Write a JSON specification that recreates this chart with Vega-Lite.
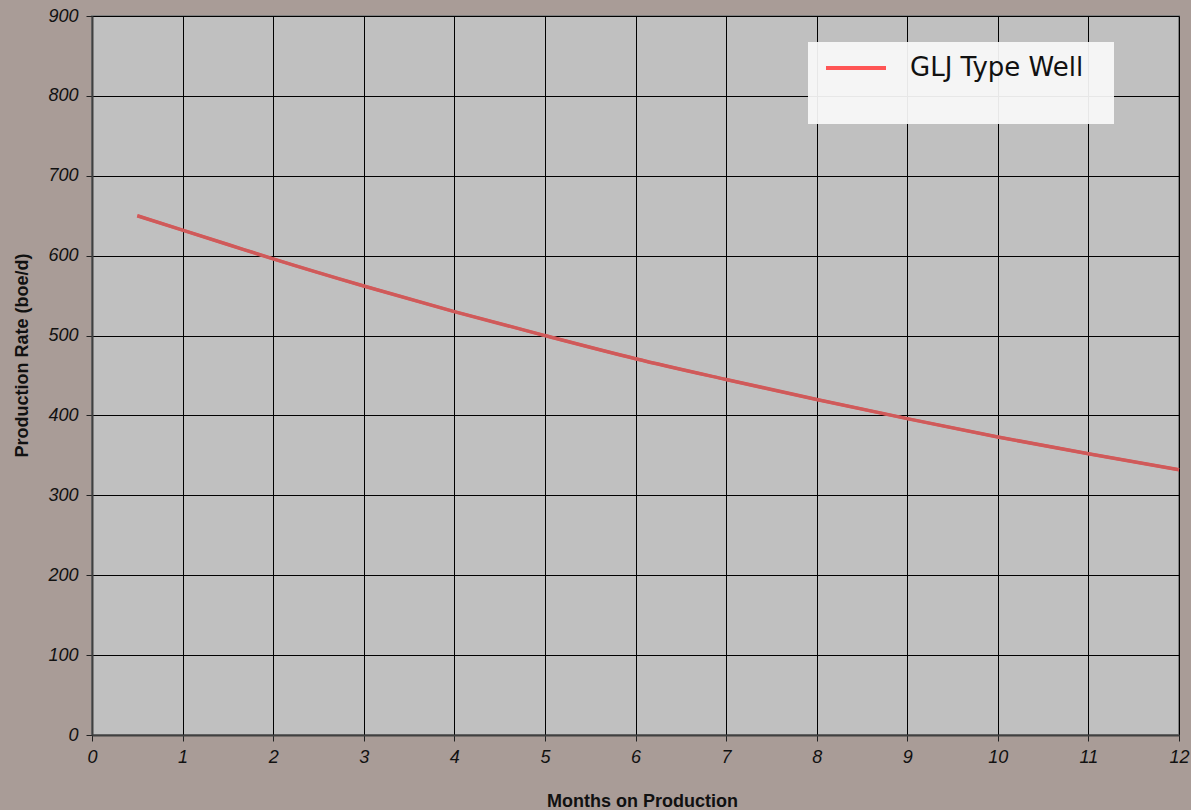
{
  "$schema": "https://vega.github.io/schema/vega-lite/v6.json",
  "width": 1087,
  "height": 719,
  "autosize": {"type": "none"},
  "padding": {"left": 92, "top": 16, "right": 12, "bottom": 75},
  "background": "#a99c97",
  "view": {"fill": "#c0c0c0", "stroke": "#808080", "strokeWidth": 2},
  "data": {
    "values": [
      {"month": 0.5, "rate": 650, "series": "GLJ Type Well"},
      {"month": 1, "rate": 632, "series": "GLJ Type Well"},
      {"month": 1.5, "rate": 614, "series": "GLJ Type Well"},
      {"month": 2, "rate": 596, "series": "GLJ Type Well"},
      {"month": 3, "rate": 562, "series": "GLJ Type Well"},
      {"month": 4, "rate": 530, "series": "GLJ Type Well"},
      {"month": 5, "rate": 500, "series": "GLJ Type Well"},
      {"month": 6, "rate": 471, "series": "GLJ Type Well"},
      {"month": 7, "rate": 445, "series": "GLJ Type Well"},
      {"month": 8, "rate": 420, "series": "GLJ Type Well"},
      {"month": 9, "rate": 396, "series": "GLJ Type Well"},
      {"month": 10, "rate": 373, "series": "GLJ Type Well"},
      {"month": 11, "rate": 352, "series": "GLJ Type Well"},
      {"month": 12, "rate": 332, "series": "GLJ Type Well"}
    ]
  },
  "encoding": {
    "x": {
      "field": "month", "type": "quantitative",
      "scale": {"domain": [0, 12], "nice": false},
      "axis": {
        "title": "Months on Production",
        "values": [0,1,2,3,4,5,6,7,8,9,10,11,12],
        "grid": true, "gridColor": "#000000", "gridOpacity": 1, "gridWidth": 1,
        "domainColor": "#404040", "domainWidth": 2,
        "tickColor": "#202020", "tickSize": 6,
        "labelFlush": false,
        "labelFont": "Liberation Sans", "labelFontSize": 18, "labelFontStyle": "italic", "labelColor": "#111111",
        "labelPadding": 7,
        "titleFont": "Liberation Sans", "titleFontSize": 18, "titleFontWeight": "bold", "titleColor": "#111111",
        "titlePadding": 26, "titleX": 550
      }
    },
    "y": {
      "field": "rate", "type": "quantitative",
      "scale": {"domain": [0, 900], "nice": false},
      "axis": {
        "title": "Production Rate (boe/d)",
        "values": [0,100,200,300,400,500,600,700,800,900],
        "grid": true, "gridColor": "#000000", "gridOpacity": 1, "gridWidth": 1,
        "domainColor": "#404040", "domainWidth": 2,
        "tickColor": "#202020", "tickSize": 6,
        "labelFont": "Liberation Sans", "labelFontSize": 18, "labelFontStyle": "italic", "labelColor": "#111111",
        "labelPadding": 8,
        "titleFont": "Liberation Sans", "titleFontSize": 18, "titleFontWeight": "bold", "titleColor": "#111111",
        "titlePadding": 16, "titleY": 339
      }
    }
  },
  "layer": [
    {
      "mark": {"type": "line", "strokeWidth": 3, "interpolate": "monotone"},
      "encoding": {
        "color": {
          "field": "series", "type": "nominal",
          "scale": {"range": ["#ff5555"]},
          "legend": {
            "orient": "none", "legendX": 716, "legendY": 26,
            "title": "GLJ Type Well GLJ Type Well.", "titleOrient": "bottom",
            "titleFont": "DejaVu Sans", "titleFontSize": 20, "titleFontWeight": "normal",
            "titleOpacity": 0, "titleLimit": 500, "titlePadding": 10,
            "fillColor": "rgba(249,249,249,0.93)",
            "padding": 13,
            "symbolType": "M-3,0H3", "symbolSize": 400, "symbolStrokeWidth": 4,
            "labelFont": "DejaVu Sans", "labelFontSize": 26, "labelColor": "#111111",
            "labelLimit": 400,
            "encode": {
              "symbols": {"update": {"x": {"value": 35}}},
              "labels": {"update": {"x": {"value": 89}}}
            }
          }
        }
      }
    },
    {
      "mark": {"type": "line", "strokeWidth": 3.5, "interpolate": "monotone", "color": "#cf5a5a"}
    }
  ]
}
